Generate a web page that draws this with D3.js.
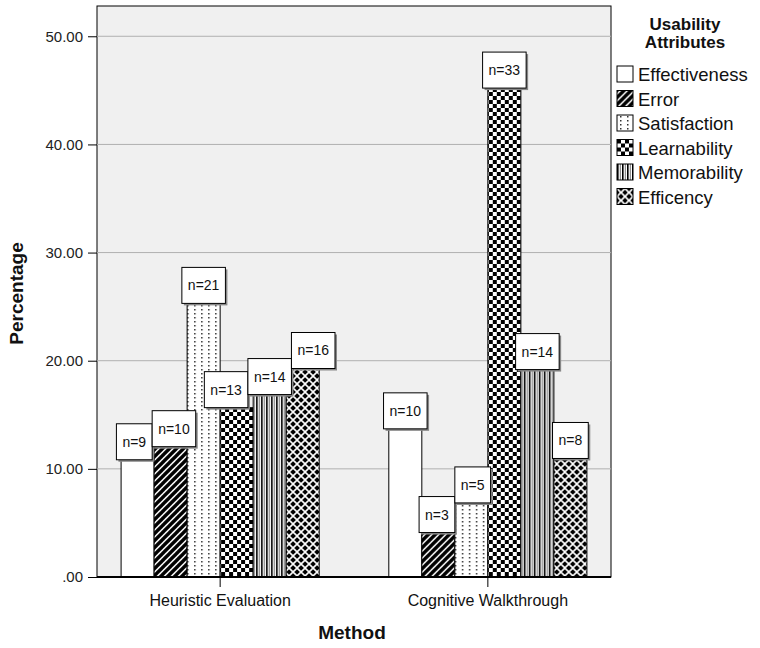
<!DOCTYPE html>
<html>
<head>
<meta charset="utf-8">
<script src="https://cdn.jsdelivr.net/npm/d3@7"></script>
<style>
  html, body { margin: 0; padding: 0; background: #fff; }
  svg { display: block; font-family: "Liberation Sans", Arial, sans-serif; }
</style>
</head>
<body>
<svg id="chart" width="760" height="648"></svg>
<script>
// values
const methods = ['Heuristic Evaluation', 'Cognitive Walkthrough'];
const attributes = ['Effectiveness', 'Error', 'Satisfaction', 'Learnability', 'Memorability', 'Efficency'];
const heuristicPct = [10.84, 12.05, 25.30, 15.66, 16.87, 19.28];
const cognitivePct = [13.70, 4.11, 6.85, 45.21, 19.18, 10.96];
const heuristicN = [9, 10, 21, 13, 14, 16];
const cognitiveN = [10, 3, 5, 33, 14, 8];
const yTicks = [0, 10, 20, 30, 40, 50];

const pctByMethod = [heuristicPct, cognitivePct];
const nByMethod = [heuristicN, cognitiveN];

const svg = d3.select('#chart');
const plot = { left: 97, top: 6, right: 611, bottom: 577 };

const y = d3.scaleLinear().domain([0, 52.8]).range([plot.bottom, plot.top]);
const x0 = d3.scaleBand().domain(methods).range([plot.left, plot.right])
  .paddingInner(0.26).paddingOuter(0.09);
const x1 = d3.scaleBand().domain(attributes).range([0, x0.bandwidth()]);

// fill patterns, one per attribute
const defs = svg.append('defs');
function pattern(id, w, h) {
  return defs.append('pattern').attr('id', id)
    .attr('patternUnits', 'userSpaceOnUse').attr('width', w).attr('height', h);
}
let p = pattern('p-error', 7, 7);
p.append('rect').attr('width', 7).attr('height', 7).attr('fill', '#fff');
p.append('path').attr('d', 'M-1,1 l2,-2 M0,7 l7,-7 M6,8 l2,-2')
  .attr('stroke', '#000').attr('stroke-width', 3.4);

p = pattern('p-satis', 7, 4);
p.append('rect').attr('width', 7).attr('height', 4).attr('fill', '#fff');
p.append('rect').attr('x', 3).attr('y', 1).attr('width', 1.5).attr('height', 1.5).attr('fill', '#333');

p = pattern('p-learn', 8, 8);
p.append('rect').attr('width', 8).attr('height', 8).attr('fill', '#fff');
p.append('rect').attr('width', 4).attr('height', 4).attr('fill', '#000');
p.append('rect').attr('x', 4).attr('y', 4).attr('width', 4).attr('height', 4).attr('fill', '#000');

p = pattern('p-memo', 5, 5);
p.append('rect').attr('width', 5).attr('height', 5).attr('fill', '#fff');
p.append('rect').attr('x', 0).attr('width', 1.6).attr('height', 5).attr('fill', '#000');
p.append('rect').attr('x', 2.8).attr('width', 1).attr('height', 5).attr('fill', '#777');

p = pattern('p-effic', 8, 8);
p.append('rect').attr('width', 8).attr('height', 8).attr('fill', '#000');
p.append('path').attr('d', 'M0,0 L8,8 M8,0 L0,8')
  .attr('stroke', '#fff').attr('stroke-width', 1.6);

const fills = d3.scaleOrdinal().domain(attributes)
  .range(['#fff', 'url(#p-error)', 'url(#p-satis)', 'url(#p-learn)', 'url(#p-memo)', 'url(#p-effic)']);

// plot background + grid
svg.append('rect')
  .attr('x', plot.left).attr('y', plot.top)
  .attr('width', plot.right - plot.left).attr('height', plot.bottom - plot.top)
  .attr('fill', '#f0f0f0').attr('stroke', '#000').attr('stroke-width', 1);

svg.append('g').selectAll('line').data(yTicks.filter(d => d > 0)).join('line')
  .attr('x1', plot.left).attr('x2', plot.right)
  .attr('y1', d => y(d)).attr('y2', d => y(d))
  .attr('stroke', '#b0b0b0').attr('stroke-width', 1);

// y axis
const yAxis = svg.append('g').attr('transform', `translate(${plot.left},0)`)
  .call(d3.axisLeft(y).tickValues(yTicks).tickSize(9).tickPadding(5)
    .tickFormat(d => d === 0 ? '.00' : d.toFixed(2)));
yAxis.select('.domain').remove();
yAxis.selectAll('line').attr('stroke', '#000');
yAxis.selectAll('text').attr('font-size', 15).attr('fill', '#222')
  .attr('font-family', '"Liberation Sans", Arial, sans-serif');

// bars
const rowsFor = i => attributes.map((a, j) => ({ attr: a, pct: pctByMethod[i][j], n: nByMethod[i][j] }));

const groups = svg.append('g').selectAll('g').data(methods).join('g')
  .attr('transform', d => `translate(${x0(d)},0)`);

groups.selectAll('rect.bar').data((m, i) => rowsFor(i)).join('rect')
  .attr('class', 'bar')
  .attr('x', d => x1(d.attr)).attr('width', x1.bandwidth())
  .attr('y', d => y(d.pct)).attr('height', d => y(0) - y(d.pct))
  .attr('fill', d => fills(d.attr))
  .attr('stroke', '#000').attr('stroke-width', 1);

// n= label boxes, nudged sideways where they would collide
groups.each(function (m, gi) {
  const g = d3.select(this);
  const boxes = g.selectAll('g.lab').data(rowsFor(gi)).join('g').attr('class', 'lab')
    .each(function (d) {
      const t = d3.select(this).append('text').text('n=' + d.n)
        .attr('font-size', 14).attr('fill', '#111').attr('text-anchor', 'middle');
      d.w = t.node().getComputedTextLength() + 12;
      d.h = 36;
      d.cx = x1(d.attr) + x1.bandwidth() / 2;
      d.top = y(d.pct) - d.h;
      d.bottom = y(d.pct);
    });
  const ds = boxes.data();
  for (let k = 0; k < 60; k++) {
    for (let i = 0; i < ds.length - 1; i++) {
      const a = ds[i], b = ds[i + 1];
      if (a.bottom <= b.top || b.bottom <= a.top) continue;
      const ov = (a.cx + a.w / 2) - (b.cx - b.w / 2);
      if (ov > 0) { a.cx -= ov / 2; b.cx += ov / 2; }
    }
  }
  boxes.each(function (d) {
    const s = d3.select(this);
    const bx = d.cx - d.w / 2;
    s.insert('rect', 'text').attr('x', bx + 2).attr('y', d.top + 2).attr('width', d.w).attr('height', d.h)
      .attr('fill', '#888');
    s.insert('rect', 'text').attr('x', bx).attr('y', d.top).attr('width', d.w).attr('height', d.h)
      .attr('fill', '#fff').attr('stroke', '#000').attr('stroke-width', 1);
    s.select('text').attr('x', d.cx).attr('y', d.top + d.h / 2 + 5);
  });
});

// x axis
const xAxis = svg.append('g').attr('transform', `translate(0,${plot.bottom})`)
  .call(d3.axisBottom(x0).tickSize(10).tickPadding(8).tickSizeOuter(0));
xAxis.select('.domain').attr('stroke', '#000').attr('stroke-width', 2)
  .attr('d', `M${plot.left},0H${plot.right}`);
xAxis.selectAll('line').attr('stroke', '#000');
xAxis.selectAll('text').attr('font-size', 16).attr('fill', '#111')
  .attr('font-family', '"Liberation Sans", Arial, sans-serif');

// axis titles
svg.append('text').text('Method')
  .attr('x', (plot.left + plot.right) / 2 - 2).attr('y', 639)
  .attr('text-anchor', 'middle').attr('font-size', 19).attr('font-weight', 'bold').attr('fill', '#111');
svg.append('text').text('Percentage')
  .attr('transform', `translate(23,${(plot.top + plot.bottom) / 2 + 2}) rotate(-90)`)
  .attr('text-anchor', 'middle').attr('font-size', 19).attr('font-weight', 'bold').attr('fill', '#111');

// legend
const legend = svg.append('g');
legend.append('text').attr('x', 685).attr('y', 30).attr('text-anchor', 'middle')
  .attr('font-size', 17).attr('font-weight', 'bold').attr('fill', '#111').text('Usability');
legend.append('text').attr('x', 685).attr('y', 48).attr('text-anchor', 'middle')
  .attr('font-size', 17).attr('font-weight', 'bold').attr('fill', '#111').text('Attributes');
const items = legend.selectAll('g.item').data(attributes).join('g').attr('class', 'item')
  .attr('transform', (d, i) => `translate(617,${66 + i * 24.5})`);
items.append('rect').attr('width', 16).attr('height', 16)
  .attr('fill', d => fills(d)).attr('stroke', '#000').attr('stroke-width', 1);
items.append('text').attr('x', 21).attr('y', 15).attr('font-size', 18.5).attr('fill', '#111').text(d => d);
</script>
</body>
</html>
